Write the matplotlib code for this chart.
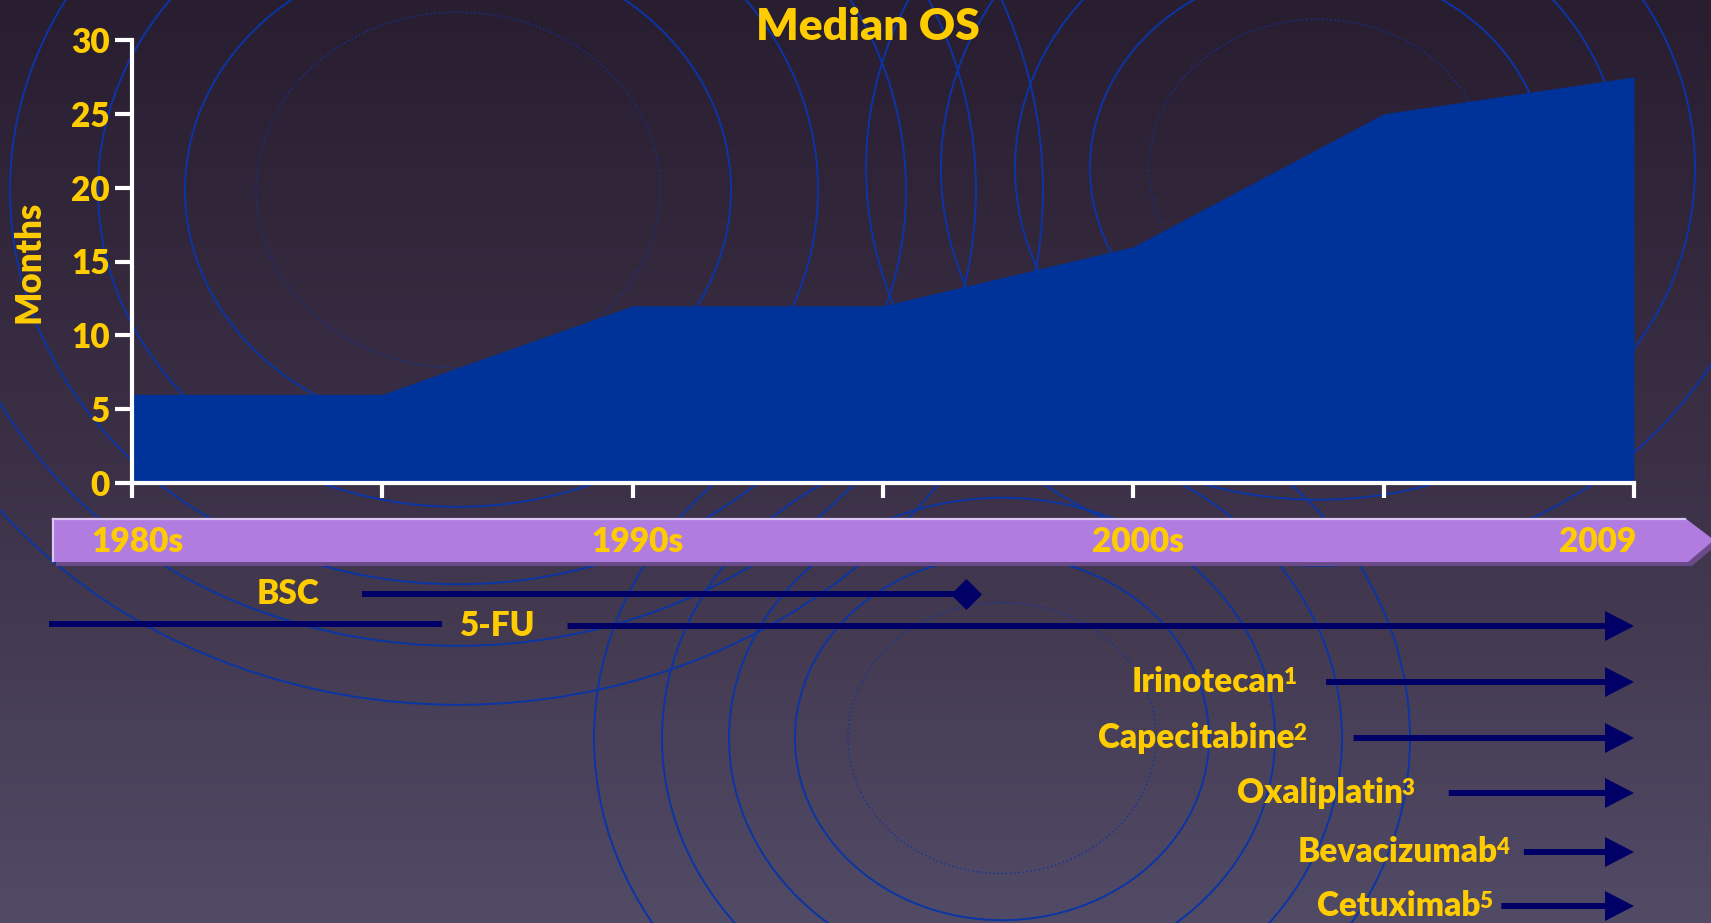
import numpy as np
import matplotlib

matplotlib.use("Agg")
import matplotlib.pyplot as plt
from matplotlib.colors import LinearSegmentedColormap
from matplotlib.patches import Ellipse, Polygon

plt.rcParams["font.family"] = ["Lato", "DejaVu Sans"]
plt.rcParams["font.weight"] = "heavy"

# ── Data ─────────────────────────────────────────────────────
stage = [0, 1, 2, 3, 4, 5, 6]
median_os = [6, 6, 12, 12, 16, 25, 27.5]
period_labels = ["1980s", "", "1990s", "", "2000s", "", "2009"]
month_ticks = [0, 5, 10, 15, 20, 25, 30]

drugs = ["BSC", "5-FU", "Irinotecan", "Capecitabine", "Oxaliplatin", "Bevacizumab", "Cetuximab"]
refs = ["", "", "1", "2", "3", "4", "5"]
drug_start = [0.92, 1.74, 4.77, 4.88, 5.26, 5.56, 5.47]
drug_end = [3.33, 6, 6, 6, 6, 6, 6]
fu_early = [-0.33, 1.24]          # 5-FU was already in use before the 1980s

# ── Layout (pixels) ──────────────────────────────────────────
W, H = 1711, 923
AX_L, AX_R, AX_T, AX_B = 132, 1634, 40, 483
row_y = [594, 626, 682, 738, 793, 852, 906]
label_x = [0.75, 1.46, 4.65, 4.69, 5.12, 5.50, 5.43]

YELLOW = "#FFCC00"
NAVY = "#000066"
FILL = "#003399"
RING = "#0a35a6"

fig = plt.figure(figsize=(W / 100, H / 100), dpi=100)

# ── Background: gradient + decorative rings ──────────────────
bg = fig.add_axes([0, 0, 1, 1], zorder=0)
bg.set_xlim(0, W)
bg.set_ylim(H, 0)
bg.axis("off")
grad_cmap = LinearSegmentedColormap.from_list("bg", ["#291d30", "#3b3046", "#524b66"])
bg.imshow(np.linspace(0, 1, 256).reshape(-1, 1), cmap=grad_cmap, aspect="auto",
          extent=(0, W, H, 0), zorder=0)

rings = [
    ((458, 190), [273, 360, 448, 518, 585], 202),
    ((1318, 168), [228, 303, 377, 452], 169),
    ((1002, 738), [207, 273, 340, 408], 154),
]
for (cx, cy), radii, dotted in rings:
    for r in radii:
        bg.add_patch(Ellipse((cx, cy), 2 * r, 2 * r * 0.88, fill=False,
                             ec=RING, lw=1.4, zorder=1))
    bg.add_patch(Ellipse((cx, cy), 2 * dotted, 2 * dotted * 0.88, fill=False,
                         ec=RING, lw=1.0, ls=(0, (1, 2)), zorder=1))

# Purple timeline banner with a soft bevel
banner = [(52, 518), (1685, 518), (1714, 540), (1688, 562), (52, 562)]
shadow = [(x + 4, y + 4) for x, y in banner]
bg.add_patch(Polygon(shadow, closed=True, fc="#6b4a8a", ec="none", zorder=2))
bg.add_patch(Polygon(banner, closed=True, fc="#b07cdf", ec="none", zorder=3))
bg.plot([53, 1685], [519, 519], color="#dcc6f2", lw=1.6, zorder=4)
bg.plot([53, 53], [519, 561], color="#dcc6f2", lw=1.6, zorder=4)

# ── Median OS area chart ─────────────────────────────────────
ax = fig.add_axes([AX_L / W, 1 - AX_B / H, (AX_R - AX_L) / W, (AX_B - AX_T) / H], zorder=2)
ax.patch.set_alpha(0)
ax.fill_between(stage, median_os, color=FILL, lw=0)
ax.set_xlim(stage[0], stage[-1])
ax.set_ylim(0, 30)
ax.set_yticks(month_ticks)
ax.set_xticks(stage)
ax.set_xticklabels([])
for side in ("top", "right"):
    ax.spines[side].set_visible(False)
for side in ("left", "bottom"):
    ax.spines[side].set_color("white")
    ax.spines[side].set_linewidth(3)
ax.tick_params(axis="y", length=12, width=3, color="white", labelcolor=YELLOW,
               labelsize=24, pad=4)
ax.tick_params(axis="x", length=11, width=3, color="white")

fig.text(868 / W, 1 - 27 / H, "Median OS", color=YELLOW, fontsize=32,
         ha="center", va="center")
fig.text(29 / W, 1 - 262 / H, "Months", color=YELLOW, fontsize=25,
         rotation=90, ha="center", va="center")

# ── Treatment timeline ───────────────────────────────────────
tl = fig.add_axes([AX_L / W, 0, (AX_R - AX_L) / W, 1], zorder=3)
tl.set_xlim(stage[0], stage[-1])
tl.set_ylim(H, 0)
tl.axis("off")
tl.patch.set_alpha(0)

px_per_unit = (AX_R - AX_L) / (stage[-1] - stage[0])

for pos, lab in zip(stage, period_labels):
    if not lab:
        continue
    ha = "right" if pos == stage[-1] else "center"
    tl.text(pos + (0.01 if ha == "right" else 0.02), 542, lab, color=YELLOW,
            fontsize=24, ha=ha, va="center", clip_on=False)

for name, ref, x0, x1, y, lx in zip(drugs, refs, drug_start, drug_end, row_y, label_x):
    if name == "BSC":
        tl.plot([x0, x1], [y, y], color=NAVY, lw=4.3, solid_capstyle="butt", clip_on=False)
        tl.plot(x1, y, marker=(4, 0, 0), ms=21, color=NAVY, mec=NAVY, clip_on=False)
    else:
        tl.arrow(x0, y, x1 - x0, 0, width=6, head_width=30, head_length=29 / px_per_unit,
                 length_includes_head=True, color=NAVY, lw=0, clip_on=False)
    if name == "5-FU":
        tl.text(lx, y, name, color=YELLOW, fontsize=24, ha="center", va="center", clip_on=False)
        continue
    # reference number set as a superscript just after the drug name
    sup_w = 11 / px_per_unit if ref else 0
    t = tl.text(lx - sup_w, y, name, color=YELLOW, fontsize=24, ha="right", va="center",
                clip_on=False)
    if ref:
        tl.annotate(ref, xy=(1, 0.97), xycoords=t, xytext=(-1, 0), textcoords="offset points",
                    color=YELLOW, fontsize=16, ha="left", va="top", annotation_clip=False)

tl.plot(fu_early, [row_y[1] - 2] * 2, color=NAVY, lw=4.3, solid_capstyle="butt", clip_on=False)

fig.savefig("out.png", dpi=100)
